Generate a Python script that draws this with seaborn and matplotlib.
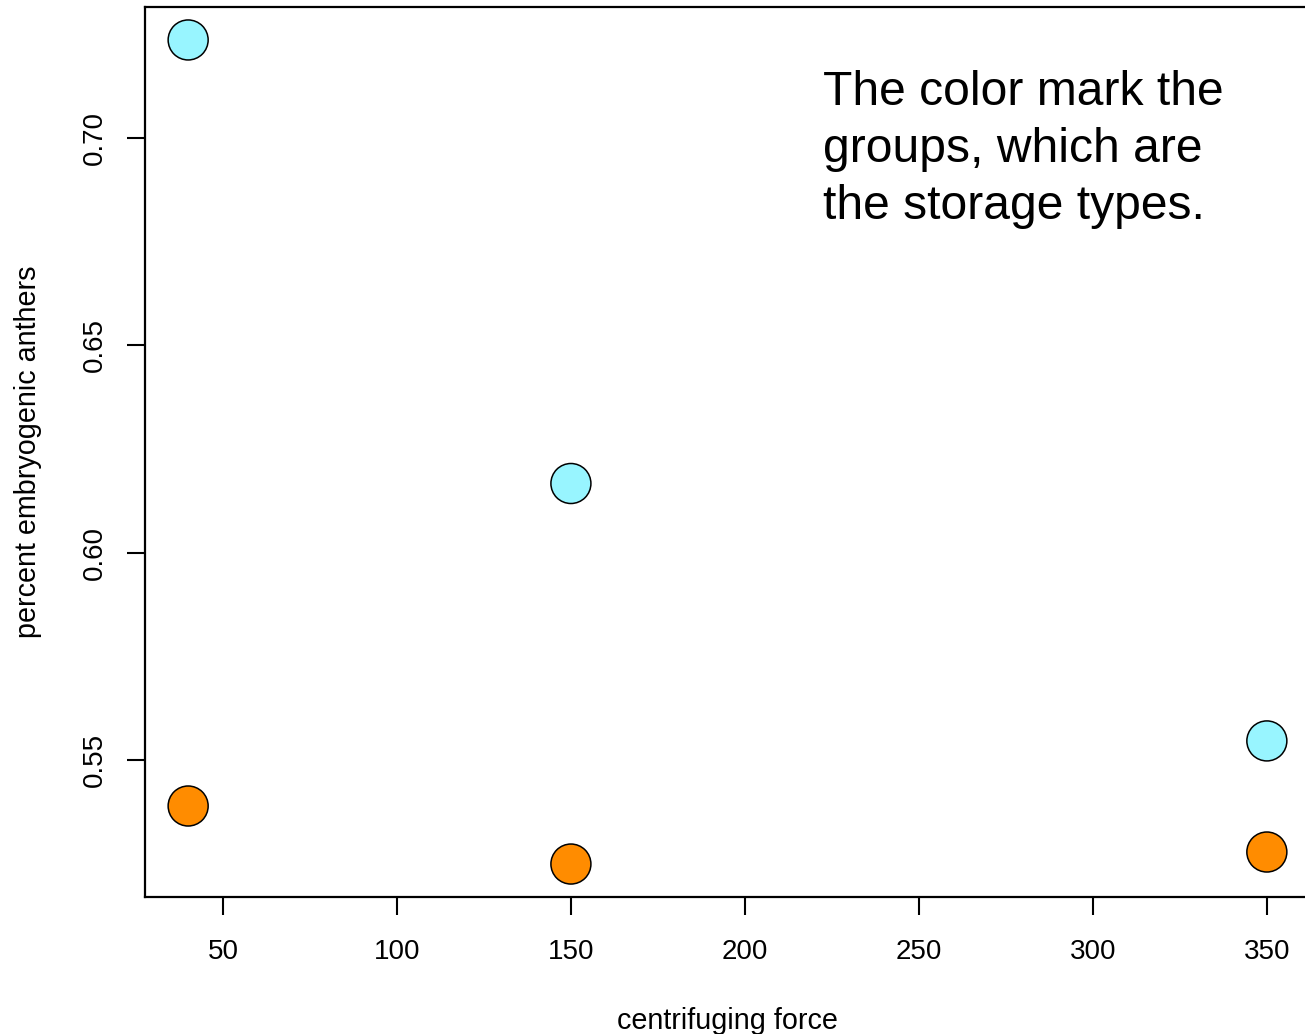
import matplotlib
matplotlib.use("Agg")
import matplotlib.pyplot as plt
import seaborn as sns
import pandas as pd

force = [40, 150, 350, 40, 150, 350]
percent = [0.7237, 0.6167, 0.5546, 0.5389, 0.5249, 0.5278]
storage = ["A", "A", "A", "B", "B", "B"]
palette = {"A": "#98F5FF", "B": "#FF8C00"}
xticks = [50, 100, 150, 200, 250, 300, 350]
yticks = [0.55, 0.60, 0.65, 0.70]

df = pd.DataFrame({"force": force, "percent": percent, "storage": storage})

sns.set_style("white")
plt.rcParams["font.family"] = ["Liberation Sans", "DejaVu Sans"]

fig = plt.figure(figsize=(13.05, 10.34), dpi=100)
ax = fig.add_axes([145 / 1305, (1034 - 897) / 1034, 1165 / 1305, 890 / 1034])

sns.scatterplot(data=df, x="force", y="percent", hue="storage", palette=palette,
                s=830, edgecolor="black", linewidth=1.1, legend=False, ax=ax, zorder=3)

xr = max(force) - min(force)
yr = max(percent) - min(percent)
ax.set_xlim(min(force) - 0.04 * xr, max(force) + 0.04 * xr)
ax.set_ylim(min(percent) - 0.04 * yr, max(percent) + 0.04 * yr)

ax.set_xticks(xticks)
ax.set_xticklabels([str(v) for v in xticks])
ax.set_yticks(yticks)
ax.set_yticklabels([f"{v:.2f}" for v in yticks], rotation=90, va="center")

ax.tick_params(axis="both", which="both", direction="out", length=13, width=1.5,
               labelsize=20, color="black", labelcolor="black", bottom=True, left=True)
ax.tick_params(axis="x", pad=17)
ax.tick_params(axis="y", pad=14)

for sp in ax.spines.values():
    sp.set_visible(True)
    sp.set_color("black")
    sp.set_linewidth(1.6)

ax.set_xlabel("centrifuging force", fontsize=20.7, color="black")
ax.set_ylabel("percent embryogenic anthers", fontsize=20.7, color="black")
ax.xaxis.set_label_coords(0.5, -0.124)
ax.yaxis.set_label_coords(-0.088, 0.5)

fig.text(823 / 1305, 1 - 70 / 1034,
         "The color mark the\ngroups, which are\nthe storage types.",
         fontsize=34.6, va="top", ha="left", color="black", linespacing=1.34)

fig.savefig("out.png", dpi=100)
